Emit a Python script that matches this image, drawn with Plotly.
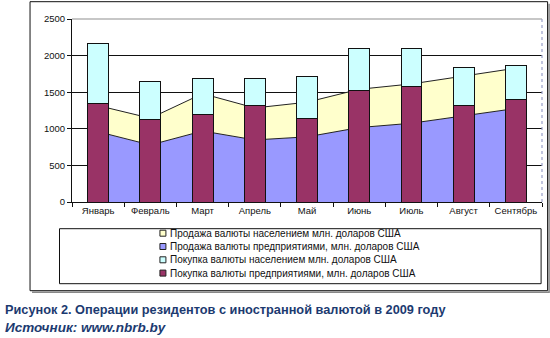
import plotly.graph_objects as go

# ---------------- data ----------------
months = ["Январь", "Февраль", "Март", "Апрель", "Май", "Июнь", "Июль", "Август", "Сентябрь"]
buy_firms = [1347, 1124, 1202, 1316, 1138, 1520, 1575, 1316, 1402]   # Покупка валюты предприятиями
buy_people = [820, 524, 492, 378, 583, 578, 523, 523, 464]           # Покупка валюты населением
sell_firms = [960, 779, 970, 848, 890, 1017, 1076, 1182, 1278]       # Продажа валюты предприятиями
sell_people = [357, 366, 510, 437, 473, 523, 537, 538, 550]          # Продажа валюты населением
y_ticks = [0, 500, 1000, 1500, 2000, 2500]

names = {
    "sell_people": "Продажа валюты населением млн. доларов США",
    "sell_firms": "Продажа валюты предприятиями, млн. доларов США",
    "buy_people": "Покупка валюты населением млн. доларов США",
    "buy_firms": "Покупка валюты предприятиями, млн. доларов США",
}
colors = {
    "sell_people": "#FFFFCC",
    "sell_firms": "#9999FF",
    "buy_people": "#CCFFFF",
    "buy_firms": "#993366",
}
title_text = "Рисунок 2. Операции резидентов с иностранной валютой в 2009 году"
source_text = "Источник: www.nbrb.by"

# ---------------- geometry ----------------
W, H = 550, 338
L, R, T, B = 72, 7.6, 19.3, 135.7
PW, PH = W - L - R, H - T - B


def px(X):
    return (X - L) / PW


def py(Y):
    return (H - B - Y) / PH


FONT = "Liberation Sans, Arial, sans-serif"

fig = go.Figure()

# stacked areas (behind bars)
fig.add_trace(go.Scatter(
    x=months, y=sell_firms, stackgroup="sell", mode="lines",
    line=dict(color="#222222", width=1), fillcolor=colors["sell_firms"],
    name=names["sell_firms"], showlegend=False, xaxis="x", yaxis="y"))
fig.add_trace(go.Scatter(
    x=months, y=sell_people, stackgroup="sell", mode="lines",
    line=dict(color="#222222", width=1), fillcolor=colors["sell_people"],
    name=names["sell_people"], showlegend=False, xaxis="x", yaxis="y"))

# stacked bars (on overlay axes so they are drawn above the areas)
fig.add_trace(go.Bar(
    x=months, y=buy_firms, width=0.4, marker=dict(color=colors["buy_firms"], line=dict(color="#111111", width=1)),
    name=names["buy_firms"], showlegend=False, xaxis="x2", yaxis="y2"))
fig.add_trace(go.Bar(
    x=months, y=buy_people, width=0.4, marker=dict(color=colors["buy_people"], line=dict(color="#111111", width=1)),
    name=names["buy_people"], showlegend=False, xaxis="x2", yaxis="y2"))

xr = [-0.5, len(months) - 0.5]
yr = [0, 2500]

shapes = []
annotations = []

# outer chart border with shadow
shapes.append(dict(type="path", xref="paper", yref="paper",
                   path=f"M {px(32)} {py(292.5)} L {px(549.5)} {py(292.5)} L {px(549.5)} {py(4)}",
                   line=dict(color="#888888", width=1.5)))
shapes.append(dict(type="rect", xref="paper", yref="paper",
                   x0=px(30), x1=px(548), y0=py(291), y1=py(2),
                   line=dict(color="#111111", width=1)))
# plot area top / right border (grey)
shapes.append(dict(type="line", xref="paper", yref="paper", x0=0, x1=1, y0=1, y1=1,
                   line=dict(color="#909090", width=1.2)))
shapes.append(dict(type="line", xref="paper", yref="paper", x0=1, x1=1, y0=0, y1=1,
                   line=dict(color="#9aa0c8", width=1.2, dash="dot")))

# legend box
shapes.append(dict(type="rect", xref="paper", yref="paper",
                   x0=px(59.5), x1=px(541.5), y0=py(284), y1=py(229),
                   line=dict(color="#111111", width=1)))

legend_keys = ["sell_people", "sell_firms", "buy_people", "buy_firms"]
legend_rows = [233.5, 246.8, 260.1, 273.4]
for key, yc in zip(legend_keys, legend_rows):
    shapes.append(dict(type="rect", xref="paper", yref="paper",
                       x0=px(160), x1=px(166), y0=py(yc + 3), y1=py(yc - 3),
                       fillcolor=colors[key], line=dict(color="#222222", width=1)))
    annotations.append(dict(text=names[key], xref="paper", yref="paper",
                            x=px(168), y=py(yc), xanchor="left", yanchor="middle",
                            showarrow=False, font=dict(family=FONT, size=10, color="#111111")))

annotations.append(dict(text="<b>" + title_text + "</b>", xref="paper", yref="paper",
                        x=px(3), y=py(310), xanchor="left", yanchor="middle", showarrow=False,
                        font=dict(family=FONT, size=12.75, color="#1c3a70")))
annotations.append(dict(text="<b><i>" + source_text + "</i></b>", xref="paper", yref="paper",
                        x=px(3), y=py(327.5), xanchor="left", yanchor="middle", showarrow=False,
                        font=dict(family=FONT, size=13.5, color="#1c3a70")))

fig.update_layout(
    width=W, height=H,
    margin=dict(l=L, r=R, t=T, b=B, pad=0),
    paper_bgcolor="white", plot_bgcolor="white",
    barmode="stack", bargap=0.6,
    showlegend=False,
    font=dict(family=FONT, size=9.5, color="#111111"),
    xaxis=dict(type="category", categoryarray=months, range=xr, showgrid=False,
               showline=True, linecolor="#111111", linewidth=1,
               ticks="outside", tickson="boundaries", ticklen=4, tickcolor="#111111",
               tickfont=dict(family=FONT, size=9.5, color="#111111"), fixedrange=True),
    yaxis=dict(range=yr, tickvals=y_ticks, showgrid=True, gridcolor="#111111", gridwidth=1,
               showline=True, linecolor="#111111", linewidth=1, zeroline=False,
               ticks="outside", ticklen=4, tickcolor="#111111",
               tickfont=dict(family=FONT, size=9.5, color="#111111"), fixedrange=True),
    xaxis2=dict(type="category", categoryarray=months, range=xr, overlaying="x",
                visible=False, fixedrange=True),
    yaxis2=dict(range=yr, overlaying="y", visible=False, fixedrange=True),
    shapes=shapes,
    annotations=annotations,
)

fig.write_html("out.html")
